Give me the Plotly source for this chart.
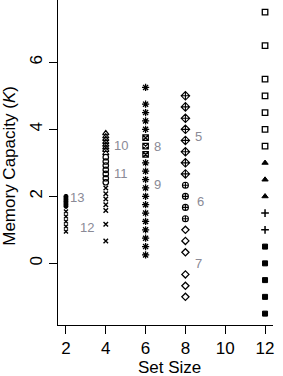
import plotly.graph_objects as go

# ---- data ----
s1_x, s1_y = 12, [7.5, 6.5, 5.5, 5.0, 4.5, 4.0, 3.5]
s2_x, s2_y = 12, [3.0, 2.5, 2.0]
s3_x, s3_y = 12, [1.5, 1.0]
s4_x, s4_y = 12, [0.5, 0.0, -0.5, -1.0, -1.5]
s5_x, s5_y = 8, [5.0, 4.67, 4.33, 4.0, 3.67, 3.33, 3.0, 2.67]
s6_x, s6_y = 8, [2.33, 2.0, 1.67, 1.33]
s7_x, s7_y = 8, [1.0, 0.67, 0.33, -0.33, -0.67, -1.0]
s8_x, s8_y = 6, [3.75, 3.5, 3.25]
s9_x, s9_y = 6, [5.25, 4.75, 4.5, 4.25, 4.0, 3.0, 2.75, 2.5, 2.25, 2.0, 1.75,
                 1.5, 1.25, 1.0, 0.75, 0.5, 0.25]
s10_x, s10_y = 4, [3.88, 3.79, 3.71, 3.62, 3.54, 3.46, 3.38, 3.29]
s11_x, s11_y = 4, [3.17, 3.04, 2.92, 2.79, 2.67, 2.54, 2.42]
s12a_x, s12a_y = 4, [2.25, 2.08, 1.92, 1.75, 1.58, 1.17, 0.67]
s12b_x, s12b_y = 2, [1.55, 1.4, 1.25, 1.1, 0.95]
s13_x, s13_y = 2, [2.0, 1.95, 1.9, 1.85, 1.8, 1.75, 1.7]

label_text = ["1", "2", "3", "4", "5", "6", "7", "8", "9", "10", "11", "12", "13"]
label_x = [12.72, 12.72, 12.72, 12.72, 8.67, 8.78, 8.67, 6.6, 6.6, 4.78, 4.78, 3.07, 2.57]
label_y = [5.47, 2.5, 1.24, -0.55, 3.78, 1.84, 0.0, 3.48, 2.34, 3.51, 2.69, 1.06, 1.97]

x_ticks = [2, 4, 6, 8, 10, 12]
y_ticks = [0, 2, 4, 6]

FONT = "Liberation Sans, Arial, sans-serif"

series = [
    (s1_x, s1_y, "square-open", 5.5, 1.3),
    (s2_x, s2_y, "triangle-up", 5.5, 1.0),
    (s3_x, s3_y, "cross-thin-open", 5.5, 1.5),
    (s4_x, s4_y, "square", 5, 1.0),
    (s5_x, s5_y, "diamond-cross-open", 6.5, 1.1),
    (s6_x, s6_y, "circle-cross-open", 6, 1.1),
    (s7_x, s7_y, "diamond-open", 5.5, 1.3),
    (s8_x, s8_y, "square-x-open", 5.5, 1.2),
    (s9_x, s9_y, "asterisk-open", 6, 1.3),
    (s10_x, s10_y, "triangle-up-open", 5.5, 1.2),
    (s11_x, s11_y, "circle-open", 5.5, 1.2),
    (s12a_x, s12a_y, "x-thin-open", 4.5, 1.4),
    (s12b_x, s12b_y, "x-thin-open", 4, 1.4),
    (s13_x, s13_y, "circle", 4, 1.0),
]

fig = go.Figure()
for sx, sy, sym, size, lw in series:
    fig.add_trace(go.Scatter(
        x=[sx] * len(sy), y=sy, mode="markers",
        marker=dict(symbol=sym, size=size, color="black",
                    line=dict(color="black", width=lw)),
        showlegend=False, hoverinfo="skip", cliponaxis=False))

for t, lx, ly in zip(label_text, label_x, label_y):
    fig.add_annotation(x=lx, y=ly, text=t, showarrow=False,
                       font=dict(family=FONT, size=13, color="#8a8a96"))

fig.add_annotation(xref="paper", yref="paper", x=0.52, y=0, yshift=-42,
                   xanchor="center", yanchor="middle",
                   text="Set Size", showarrow=False,
                   font=dict(family=FONT, size=17, color="black"))
fig.add_annotation(xref="paper", yref="paper", x=0, xshift=-48, y=0.49,
                   xanchor="center", yanchor="middle",
                   text="Memory Capacity (<i>K</i>)", showarrow=False, textangle=-90,
                   font=dict(family=FONT, size=17, color="black"))

fig.update_layout(
    width=283, height=376,
    margin=dict(l=58, r=10, t=0, b=51),
    plot_bgcolor="white", paper_bgcolor="white",
    font=dict(family=FONT, size=17, color="black"),
)
fig.update_xaxes(range=[1.6, 12.4], tickvals=x_ticks, ticks="outside", ticklen=8,
                 tickwidth=1, tickcolor="black", showline=True, linecolor="black",
                 linewidth=1, showgrid=False, zeroline=False,
                 tickfont=dict(family=FONT, size=17, color="black"))
fig.update_yaxes(range=[-1.84, 7.86], tickvals=y_ticks, ticks="outside", ticklen=8,
                 tickwidth=1, tickcolor="black", showline=True, linecolor="black",
                 linewidth=1, showgrid=False, zeroline=False, tickangle=-90,
                 tickfont=dict(family=FONT, size=17, color="black"))

fig.write_html("out.html", config={"displayModeBar": False},
               post_script="document.body.style.margin='0px';document.body.style.overflow='hidden';")
